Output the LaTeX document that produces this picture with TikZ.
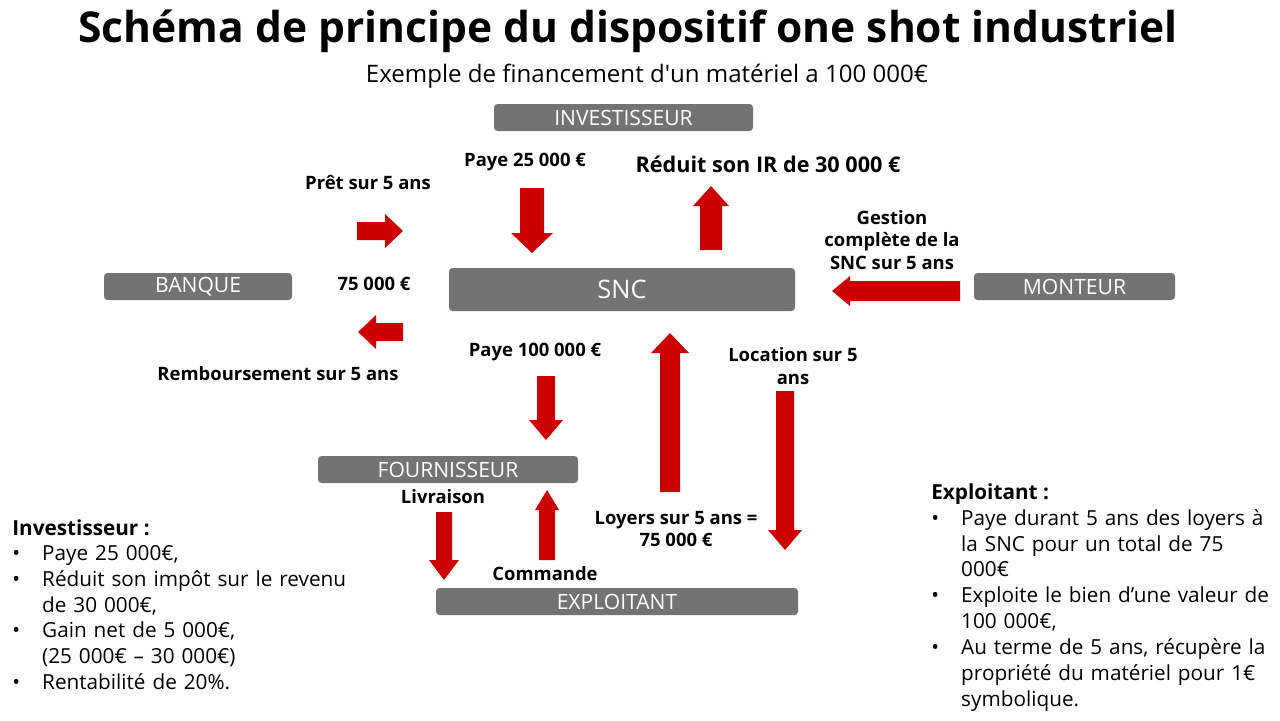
\documentclass[tikz,border=0pt]{standalone}
\usepackage{fontspec}
\setmainfont{Open Sans}
\usepackage{xcolor}
\definecolor{boxgray}{RGB}{115,115,115}
\definecolor{arrowred}{RGB}{204,0,0}
\usetikzlibrary{positioning}

% vertical block arrow: x, tail y, tip y, half shaft, half head
\newcommand{\varrow}[5]{%
  \pgfmathsetmacro\hb{#3-20*sign(#3-#2)}
  \fill[arrowred] ({#1-#4},#2) -- ({#1-#4},\hb) -- ({#1-#5},\hb) -- (#1,#3)
    -- ({#1+#5},\hb) -- ({#1+#4},\hb) -- ({#1+#4},#2) -- cycle;}
% horizontal block arrow: y, tail x, tip x, half shaft, half head
\newcommand{\harrow}[5]{%
  \pgfmathsetmacro\hb{#3-18*sign(#3-#2)}
  \fill[arrowred] (#2,{#1-#4}) -- (\hb,{#1-#4}) -- (\hb,{#1-#5}) -- (#3,#1)
    -- (\hb,{#1+#5}) -- (\hb,{#1+#4}) -- (#2,{#1+#4}) -- cycle;}
\newcommand{\bul}{\makebox[17pt][l]{•}}
\newcommand{\ind}{\hspace*{17pt}}

\begin{document}
\begin{tikzpicture}[x=0.02cm,y=-0.02cm,
    actor/.style={fill=boxgray,rounded corners=2pt},
    actortext/.style={text=white,font=\fontsize{12}{14}\selectfont,inner sep=0pt},
    lbl/.style={font=\bfseries\fontsize{10.5}{13}\selectfont,align=center,inner sep=0pt},
    note/.style={font=\fontsize{11.8}{14.7}\selectfont,align=left,inner sep=0pt,anchor=north west}]
\useasboundingbox (0,0) rectangle (1280,720);

% title
\node[font=\bfseries\fontsize{24.2}{28}\selectfont] (title) at (628,31) {Schéma de principe du dispositif one shot industriel};
\node[font=\fontsize{13.7}{16}\selectfont] (sub) at (647,76) {Exemple de financement d\textquotesingle un matériel a 100 000€};

% actors
\path[actor] (494,104) rectangle (753,131); \node[actortext] (inv) at (623.5,117.5) {INVESTISSEUR};
\path[actor] (104,273) rectangle (292,300); \node[actortext] (bank) at (198,286.5) {BANQUE};
\path[actor] (449,268) rectangle (795,311); \node[actortext,font=\fontsize{14.5}{16}\selectfont] (snc) at (622,289.5) {SNC};
\path[actor] (974,273) rectangle (1175,300); \node[actortext] (mont) at (1074.5,286.5) {MONTEUR};
\path[actor] (318,456) rectangle (578,483); \node[actortext] (four) at (448,469.5) {FOURNISSEUR};
\path[actor] (436,588) rectangle (798,615); \node[actortext] (expl) at (617,601.5) {EXPLOITANT};

% flows
\harrow{231}{357}{403}{9}{17}
\harrow{332}{403}{358}{9}{17}
\varrow{532}{188}{253}{12}{21}
\varrow{711}{250}{186}{11}{18}
\harrow{291}{960}{832}{10}{15}
\varrow{546}{376}{440}{9}{17}
\varrow{670}{492}{333}{10}{19}
\varrow{785}{391}{550}{9}{17}
\varrow{444}{512}{580}{8}{15}
\varrow{547}{560}{490}{8}{12}

% labels
\node[lbl] (pret) at (368,183) {Prêt sur 5 ans};
\node[lbl] (p25) at (525,162) {Paye 25 000 €};
\node[lbl,font=\bfseries\fontsize{12.3}{14}\selectfont] (ir) at (768,164) {Réduit son IR de 30 000 €};
\node[lbl] (gest) at (892,240) {Gestion\\complète de la\\SNC sur 5 ans};
\node[lbl] (k75) at (374,284) {75 000 €};
\node[lbl] (remb) at (278,374) {Remboursement sur 5 ans};
\node[lbl] (p100) at (535,352) {Paye 100 000 €};
\node[lbl] (loc) at (793,366) {Location sur 5\\ans};
\node[lbl] (livr) at (443,497) {Livraison};
\node[lbl] (loy) at (676,529) {Loyers sur 5 ans =\\75 000 €};
\node[lbl] (cmd) at (545,574) {Commande};

% notes
\node[note] (invnote) at (12,519) {\textbf{Investisseur :}};
\node[note,text width=8cm] (invlist) at (12,545) {%
  \bul Paye 25 000€,\\
  \bul Réduit son impôt sur le revenu\\
  \ind de 30 000€,\\
  \bul Gain net de 5 000€,\\
  \ind (25 000€ – 30 000€)\\
  \bul Rentabilité de 20\%.};
\node[note] (expnote) at (931,483) {\textbf{Exploitant :}};
\node[note,text width=7cm] (explist) at (931,509) {%
  \bul Paye durant 5 ans des loyers à\\
  \ind la SNC pour un total de 75\\
  \ind 000€\\
  \bul Exploite le bien d’une valeur de\\
  \ind 100 000€,\\
  \bul Au terme de 5 ans, récupère la\\
  \ind propriété du matériel pour 1€\\
  \ind symbolique.};
\end{tikzpicture}
\end{document}
